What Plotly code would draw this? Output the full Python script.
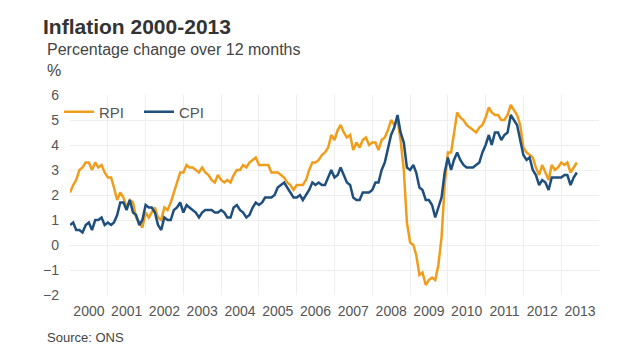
import plotly.graph_objects as go
import pandas as pd

# Monthly 12-month inflation rates, Jan 2000 - Jun 2013
rpi = [
    2.1, 2.4, 2.6, 3.0, 3.1, 3.3, 3.3, 3.0, 3.3, 3.1, 3.2, 2.9,   # 2000
    2.7, 2.7, 2.3, 1.8, 2.1, 1.9, 1.5, 1.8, 1.7, 1.1, 0.9, 0.7,   # 2001
    1.3, 1.1, 1.3, 1.5, 1.1, 1.0, 1.5, 1.4, 1.7, 2.1, 2.6, 2.9,   # 2002
    2.9, 3.2, 3.1, 3.1, 3.0, 2.9, 3.1, 2.9, 2.8, 2.6, 2.5, 2.8,   # 2003
    2.6, 2.5, 2.6, 2.5, 2.8, 3.0, 3.0, 3.2, 3.1, 3.3, 3.4, 3.5,   # 2004
    3.2, 3.2, 3.2, 3.2, 2.9, 2.9, 2.9, 2.8, 2.7, 2.5, 2.4, 2.2,   # 2005
    2.4, 2.4, 2.4, 2.6, 3.0, 3.3, 3.3, 3.4, 3.6, 3.7, 3.9, 4.4,   # 2006
    4.2, 4.6, 4.8, 4.5, 4.3, 4.4, 3.8, 4.1, 3.9, 4.2, 4.3, 4.0,   # 2007
    4.1, 4.1, 3.8, 4.2, 4.3, 4.6, 5.0, 4.8, 5.0, 4.2, 3.0, 0.9,   # 2008
    0.1, 0.0, -0.4, -1.2, -1.1, -1.6, -1.4, -1.3, -1.4, -0.8, 0.3, 2.4,  # 2009
    3.7, 3.7, 4.4, 5.3, 5.1, 5.0, 4.8, 4.7, 4.6, 4.5, 4.7, 4.8,   # 2010
    5.1, 5.5, 5.3, 5.2, 5.2, 5.0, 5.0, 5.2, 5.6, 5.4, 5.2, 4.8,   # 2011
    3.9, 3.7, 3.6, 3.5, 3.1, 2.8, 3.2, 2.9, 2.6, 3.2, 3.0, 3.1,   # 2012
    3.3, 3.2, 3.3, 2.9, 3.1, 3.3,                                 # 2013
]
cpi = [
    0.8, 0.9, 0.6, 0.6, 0.5, 0.8, 0.9, 0.6, 1.0, 1.0, 1.1, 0.8,   # 2000
    0.9, 0.8, 0.9, 1.2, 1.7, 1.7, 1.4, 1.8, 1.3, 1.2, 0.8, 1.0,   # 2001
    1.6, 1.5, 1.5, 1.3, 0.8, 0.6, 1.1, 1.0, 1.0, 1.4, 1.5, 1.7,   # 2002
    1.3, 1.6, 1.5, 1.4, 1.3, 1.1, 1.3, 1.4, 1.4, 1.4, 1.3, 1.3,   # 2003
    1.4, 1.3, 1.1, 1.1, 1.5, 1.6, 1.4, 1.3, 1.1, 1.2, 1.5, 1.7,   # 2004
    1.6, 1.7, 1.9, 1.9, 1.9, 2.0, 2.3, 2.4, 2.5, 2.3, 2.1, 1.9,   # 2005
    1.9, 2.0, 1.8, 2.0, 2.2, 2.5, 2.4, 2.5, 2.4, 2.4, 2.7, 3.0,   # 2006
    2.7, 2.8, 3.1, 2.8, 2.5, 2.4, 1.9, 1.8, 1.8, 2.1, 2.1, 2.1,   # 2007
    2.2, 2.5, 2.5, 3.0, 3.3, 3.8, 4.4, 4.7, 5.2, 4.5, 4.1, 3.1,   # 2008
    3.0, 3.2, 2.9, 2.3, 2.2, 1.8, 1.8, 1.6, 1.1, 1.5, 1.9, 2.9,   # 2009
    3.5, 3.0, 3.4, 3.7, 3.4, 3.2, 3.1, 3.1, 3.1, 3.2, 3.3, 3.7,   # 2010
    4.0, 4.4, 4.0, 4.5, 4.5, 4.2, 4.4, 4.5, 5.2, 5.0, 4.8, 4.2,   # 2011
    3.6, 3.4, 3.5, 3.0, 2.8, 2.4, 2.6, 2.5, 2.2, 2.7, 2.7, 2.7,   # 2012
    2.7, 2.8, 2.8, 2.4, 2.7, 2.9,                                 # 2013
]
months = pd.date_range("2000-01-01", periods=len(rpi), freq="MS")
years = list(range(2000, 2014))
year_grid = [f"{y}-01-01" for y in years]
year_label_pos = [f"{y}-07-02" for y in years]
year_labels = [str(y) for y in years]

title = "Inflation 2000-2013"
subtitle = "Percentage change over 12 months"
unit = "%"
source = "Source: ONS"

RPI_COL = "#F09D1C"
CPI_COL = "#1F4F7D"
GRID = "#EEEEEE"
FONT = "Liberation Sans, Arial, sans-serif"

fig = go.Figure()
fig.add_trace(go.Scatter(x=months, y=rpi, mode="lines", name="RPI",
                         line=dict(color=RPI_COL, width=2.5)))
fig.add_trace(go.Scatter(x=months, y=cpi, mode="lines", name="CPI",
                         line=dict(color=CPI_COL, width=2.5)))

L, R, T, B = 70, 41, 95, 65
PW, PH = 640 - L - R, 360 - T - B

def px_x(px):
    return (px - L) / PW

def px_y(py):
    return (360 - B - py) / PH

fig.update_layout(
    width=640, height=360,
    margin=dict(l=L, r=R, t=T, b=B, pad=0),
    paper_bgcolor="white", plot_bgcolor="white",
    font=dict(family=FONT, color="#555555", size=14),
    showlegend=True,
    legend=dict(orientation="h", x=px_x(59), y=px_y(112), xanchor="left", yanchor="middle",
                bgcolor="rgba(0,0,0,0)", font=dict(size=15, color="#555555"),
                entrywidth=35, itemwidth=30),
    xaxis=dict(range=["2000-01-01", "2014-01-01"], tickvals=year_label_pos, ticktext=year_labels,
               showgrid=False, zeroline=False, showline=False, ticks="",
               tickfont=dict(size=14, color="#555555"), ticklabelstandoff=6,
               minor=dict(tickvals=year_grid, showgrid=True, gridcolor=GRID, gridwidth=1, ticks="")),
    yaxis=dict(range=[-2, 6], dtick=1, showgrid=True, gridcolor=GRID, gridwidth=1,
               zeroline=False, showline=False, ticks="", tickfont=dict(size=14, color="#555555"),
               ticklabelstandoff=10),
    annotations=[
        dict(text=f"<b>{title}</b>", x=px_x(41), y=px_y(27), xref="paper", yref="paper",
             xanchor="left", yanchor="middle", showarrow=False,
             font=dict(size=21, color="#333333")),
        dict(text=subtitle, x=px_x(45), y=px_y(50), xref="paper", yref="paper",
             xanchor="left", yanchor="middle", showarrow=False,
             font=dict(size=16, color="#444444")),
        dict(text=unit, x=px_x(45), y=px_y(71), xref="paper", yref="paper",
             xanchor="left", yanchor="middle", showarrow=False,
             font=dict(size=16, color="#444444")),
        dict(text=source, x=px_x(45), y=px_y(337), xref="paper", yref="paper",
             xanchor="left", yanchor="middle", showarrow=False,
             font=dict(size=13, color="#444444")),
    ],
)

fig.write_html("out.html", config={"displayModeBar": False},
               post_script="document.body.style.margin='0';")
